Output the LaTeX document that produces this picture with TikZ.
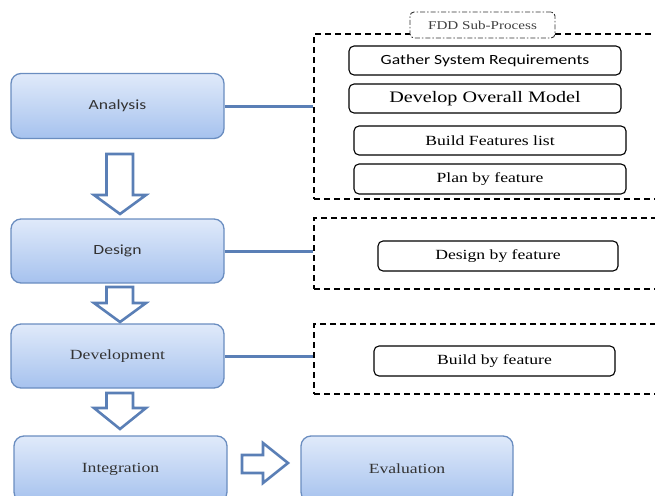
\documentclass[tikz,border=0pt]{standalone}
\usepackage{fontspec}
\setmainfont[FakeStretch=1.26]{Liberation Serif}
\newfontfamily\carl[FakeStretch=1.26]{Carlito}
\definecolor{phtop}{HTML}{E0EAFA}
\definecolor{phbot}{HTML}{A6C2EE}
\definecolor{phborder}{HTML}{6A8DC0}
\definecolor{linkblue}{HTML}{5A7FB6}
\definecolor{txtgray}{HTML}{333333}
\tikzset{
  phase/.style={draw=phborder, line width=1.3pt, rounded corners=10pt,
    top color=phtop, bottom color=phbot, minimum width=213pt, minimum height=65pt,
    inner sep=0pt, text=txtgray, font=\fontsize{14}{16}\selectfont},
  group/.style={draw=black, line width=1.6pt, dash pattern=on 6pt off 4pt,
    inner sep=0pt, minimum width=346pt},
  task/.style={draw=black, line width=1.1pt, rounded corners=5pt, fill=white,
    minimum width=272pt, minimum height=29pt, inner sep=0pt,
    font=\fontsize{14}{16}\selectfont},
  tag/.style={draw=black!80, line width=0.9pt, rounded corners=4pt, fill=white,
    dash pattern=on 5pt off 2pt on 1.5pt off 2pt, minimum width=145pt,
    minimum height=26pt, inner sep=0pt, text=black!75, font=\fontsize{12}{14}\selectfont},
  link/.style={draw=linkblue, line width=3pt},
  blockarrow/.style={draw=linkblue, line width=2.6pt, fill=white, line join=miter}
}
\begin{document}
\begin{tikzpicture}[x=1pt,y=-1pt]
\useasboundingbox (0,0) rectangle (655,495);
% phases
\node[phase] (ana) at (117.5,106) {\carl Analysis};
\node[phase, minimum height=64pt] (des) at (117.5,251) {\carl Design};
\node[phase, minimum height=64pt] (dev) at (117.5,356) {Development};
\node[phase, minimum height=66pt] (int) at (120.5,469) {Integration};
\node[phase, minimum width=212pt, minimum height=66pt] (eva) at (407,469) {Evaluation};
% block arrows
\draw[blockarrow] (106.5,154) -- (133,154) -- (133,195) -- (146,195) -- (120,214) -- (94,195) -- (106.5,195) -- cycle;
\draw[blockarrow] (106.5,287) -- (133,287) -- (133,303) -- (146,303) -- (120,322) -- (94,303) -- (106.5,303) -- cycle;
\draw[blockarrow] (106.5,393) -- (133,393) -- (133,408) -- (146,408) -- (120,429) -- (94,408) -- (106.5,408) -- cycle;
\draw[blockarrow] (242,455) -- (263,455) -- (263,443) -- (288,463) -- (263,483) -- (263,473) -- (242,473) -- cycle;
% groups
\node[group, minimum height=165pt] (g1) at (487,116.5) {};
\node[group, minimum height=71pt] (g2) at (487,253.5) {};
\node[group, minimum height=70pt] (g3) at (487,359) {};
\node[tag] (fdd) at (482.5,25) {FDD Sub-Process};
% tasks
\node[task] (t1) at (485,60.5) {\carl Gather System Requirements};
\node[task, font=\fontsize{16}{18}\selectfont] (t2) at (485,98.5) {Develop Overall Model};
\node[task] (t3) at (490,140.5) {Build Features list};
\node[task, minimum height=30pt] (t4) at (490,179) {Plan by feature};
\node[task, minimum width=240pt, minimum height=30pt] (t5) at (498,256) {Design by feature};
\node[task, minimum width=241pt, minimum height=30pt] (t6) at (494.5,361) {Build by feature};
% connectors
\draw[link] (ana.east) -- (ana.east -| g1.west);
\draw[link] (des.east) -- (des.east -| g2.west);
\draw[link] (dev.east) -- (dev.east -| g3.west);
\end{tikzpicture}
\end{document}
